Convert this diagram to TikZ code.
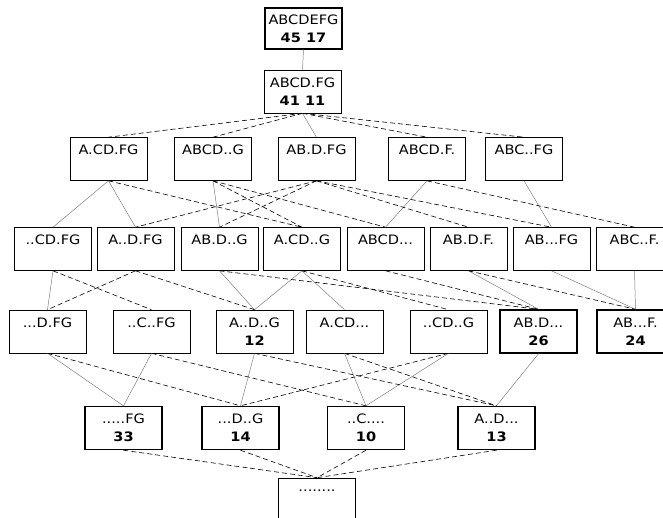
\documentclass[tikz,border=0pt]{standalone}
\usepackage{fontspec}
\setmainfont{DejaVu Sans}[FakeStretch=1.12]
\usepackage{tikz}
\usetikzlibrary{
  arrows.meta,
  positioning
}
\definecolor{latGray}{HTML}{7F7F7F}
\tikzset{
  cell/.style={
    draw, line width=0.6pt, minimum width=77pt, minimum height=43pt,
    inner sep=0pt, align=center, fill=white,
    font=\fontsize{13}{18}\selectfont
  },
  freqcell/.style={cell, line width=1.4pt},
  subset/.style={latGray, line width=0.5pt},
  gensub/.style={black, line width=0.6pt, dash pattern=on 5pt off 3pt}
}
\newcommand{\cnt}[1]{\textbf{#1}}
\newcommand{\nocnt}{\phantom{\textbf{0}}}

\begin{document}
\begin{tikzpicture}[x=1pt, y=-1pt]
  \useasboundingbox (0,0) rectangle (663,517);
  \clip (0,0) rectangle (663,517);

  % top
  \node[freqcell, minimum height=41pt] (abcdefg) at (303.5,28.5) {ABCDEFG\\\cnt{45 17}};
  \node[cell] (abcdfg) at (302.5,91.5) {ABCD.FG\\\cnt{41 11}};

  % five items
  \node[cell] (acdfg) at (108.5,159) {A.CD.FG\\\nocnt};
  \node[cell] (abcdg) at (213,159) {ABCD..G\\\nocnt};
  \node[cell] (abdfg) at (316.5,159) {AB.D.FG\\\nocnt};
  \node[cell] (abcdf) at (427,159) {ABCD.F.\\\nocnt};
  \node[cell] (abcfg) at (524,159) {ABC..FG\\\nocnt};

  % four items
  \node[cell] (cdfg) at (53,249) {..CD.FG\\\nocnt};
  \node[cell] (adfg) at (135.5,249) {A..D.FG\\\nocnt};
  \node[cell] (abdg) at (219.5,249) {AB.D..G\\\nocnt};
  \node[cell] (acdg) at (302,249) {A.CD..G\\\nocnt};
  \node[cell] (abcd) at (385.5,249) {ABCD...\\\nocnt};
  \node[cell] (abdf) at (468.5,249) {AB.D.F.\\\nocnt};
  \node[cell] (abfg) at (551.5,249) {AB...FG\\\nocnt};
  \node[cell] (abcf) at (634.5,249) {ABC..F.\\\nocnt};

  % three items
  \node[cell] (dfg) at (47.5,331.5) {...D.FG\\\nocnt};
  \node[cell] (cfg) at (151.5,331.5) {..C..FG\\\nocnt};
  \node[cell] (adg) at (254.5,331.5) {A..D..G\\\cnt{12}};
  \node[cell] (acd) at (344.5,331.5) {A.CD...\\\nocnt};
  \node[cell] (cdg) at (448.5,331.5) {..CD..G\\\nocnt};
  \node[freqcell] (abd) at (538.5,331.5) {AB.D...\\\cnt{26}};
  \node[freqcell] (abf) at (635.5,331.5) {AB...F.\\\cnt{24}};

  % two items and less
  \node[freqcell] (fg) at (123.5,428) {.....FG\\\cnt{33}};
  \node[freqcell] (dg) at (240.5,428) {...D..G\\\cnt{14}};
  \node[freqcell] (c) at (366,428) {..C....\\\cnt{10}};
  \node[freqcell] (ad) at (496.5,428) {A..D...\\\cnt{13}};
  \node[cell] (none) at (317,499.5) {........\\\nocnt};

  % solid edges
  \draw[subset] (abcdefg.south) -- (abcdfg.north);
  \draw[subset] (abcdfg.south) -- (abdfg.north);
  \draw[subset] (acdfg.south) -- (cdfg.north);
  \draw[subset] (acdfg.south) -- (adfg.north);
  \draw[subset] (abcdg.south) -- (abdg.north);
  \draw[subset] (abcdf.south) -- (abcd.north);
  \draw[subset] (abcfg.south) -- (abfg.north);
  \draw[subset] (cdfg.south) -- (dfg.north);
  \draw[subset] (abdg.south) -- (adg.north);
  \draw[subset] (acdg.south) -- (adg.north);
  \draw[subset] (acdg.south) -- (acd.north);
  \draw[subset] (abdf.south) -- (abd.north);
  \draw[subset] (abfg.south) -- (abf.north);
  \draw[subset] (abcf.south) -- (abf.north);
  \draw[subset] (dfg.south) -- (fg.north);
  \draw[subset] (cfg.south) -- (fg.north);
  \draw[subset] (adg.south) -- (dg.north);
  \draw[subset] (acd.south) -- (c.north);
  \draw[subset] (cdg.south) -- (c.north);
  \draw[subset] (abd.south) -- (ad.north);

  % dashed edges
  \draw[gensub] (abcdfg.south) -- (acdfg.north);
  \draw[gensub] (abcdfg.south) -- (abcdg.north);
  \draw[gensub] (abcdfg.south) -- (abcdf.north);
  \draw[gensub] (abcdfg.south) -- (abcfg.north);
  \draw[gensub] (acdfg.south) -- (acdg.north);
  \draw[gensub] (abcdg.south) -- (acdg.north);
  \draw[gensub] (abcdg.south) -- (abcd.north);
  \draw[gensub] (abdfg.south) -- (adfg.north);
  \draw[gensub] (abdfg.south) -- (abdg.north);
  \draw[gensub] (abdfg.south) -- (abdf.north);
  \draw[gensub] (abdfg.south) -- (abfg.north);
  \draw[gensub] (abcdf.south) -- (abcf.north);
  \draw[gensub] (cdfg.south) -- (cfg.north);
  \draw[gensub] (adfg.south) -- (dfg.north);
  \draw[gensub] (adfg.south) -- (adg.north);
  \draw[gensub] (abdg.south) -- (abd.north);
  \draw[gensub] (acdg.south) -- (cdg.north);
  \draw[gensub] (abcd.south) -- (abd.north);
  \draw[gensub] (abdf.south) -- (abf.north);
  \draw[gensub] (dfg.south) -- (dg.north);
  \draw[gensub] (cfg.south) -- (c.north);
  \draw[gensub] (adg.south) -- (ad.north);
  \draw[gensub] (acd.south) -- (ad.north);
  \draw[gensub] (cdg.south) -- (dg.north);
  \draw[gensub] (fg.south) -- (none.north);
  \draw[gensub] (dg.south) -- (none.north);
  \draw[gensub] (c.south) -- (none.north);
  \draw[gensub] (ad.south) -- (none.north);
\end{tikzpicture}
\end{document}
